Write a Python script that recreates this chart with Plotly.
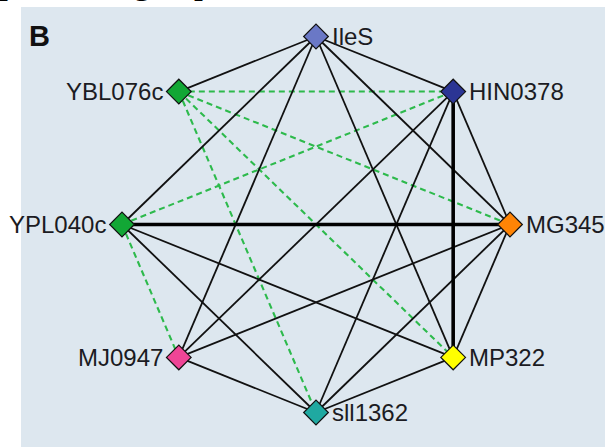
import math
import plotly.graph_objects as go

# ---- data ----
nodes = ["IleS", "HIN0378", "MG345", "MP322", "sll1362", "MJ0947", "YPL040c", "YBL076c"]
node_colors = ["#6a78c6", "#2b3594", "#ff8405", "#ffff00", "#1fa9a1", "#ef4596", "#12a735", "#12a735"]
label_side = ["right", "right", "right", "right", "right", "left", "left", "left"]

black_edges = [
    ("IleS", "YBL076c"), ("IleS", "YPL040c"), ("IleS", "MJ0947"), ("IleS", "MP322"),
    ("IleS", "MG345"), ("IleS", "HIN0378"),
    ("HIN0378", "MG345"), ("HIN0378", "sll1362"), ("HIN0378", "MJ0947"),
    ("MG345", "MP322"), ("MG345", "sll1362"), ("MG345", "MJ0947"),
    ("MP322", "sll1362"), ("MP322", "YPL040c"),
    ("sll1362", "MJ0947"), ("sll1362", "YPL040c"),
]
thick_edges = [("YPL040c", "MG345"), ("HIN0378", "MP322")]
dashed_edges = [
    ("YBL076c", "HIN0378"), ("YBL076c", "MG345"), ("YBL076c", "MP322"),
    ("YBL076c", "sll1362"), ("YPL040c", "HIN0378"), ("YPL040c", "MJ0947"),
]
caption_letters = ["p", "g", "p"]

W, H = 615, 447

# ---- circular layout (pixel-like coordinates) ----
CX, CY, RX, RY = 316, 224.5, 194, 188
pos = {}
for i, n in enumerate(nodes):
    a = math.radians(45 * i)
    pos[n] = (CX + RX * math.sin(a), CY - RY * math.cos(a))

fig = go.Figure()


def add_edges(edges, color, width, dash):
    xs, ys = [], []
    for a, b in edges:
        xs += [pos[a][0], pos[b][0], None]
        ys += [pos[a][1], pos[b][1], None]
    fig.add_trace(go.Scatter(x=xs, y=ys, mode="lines", hoverinfo="skip",
                             line=dict(color=color, width=width, dash=dash),
                             showlegend=False))


add_edges(dashed_edges, "#2dba4c", 2.1, "6px,4px")
add_edges(black_edges, "#111111", 1.8, "solid")
add_edges(thick_edges, "#000000", 3.6, "solid")

fig.add_trace(go.Scatter(
    x=[pos[n][0] for n in nodes], y=[pos[n][1] for n in nodes],
    mode="markers", hoverinfo="text", text=nodes, showlegend=False,
    marker=dict(symbol="diamond", size=19, color=node_colors,
                line=dict(color="#111111", width=1.2)),
))

annotations = []
for n, side in zip(nodes, label_side):
    x, y = pos[n]
    annotations.append(dict(
        x=x, y=y, xref="x", yref="y", text=n, showarrow=False,
        xanchor="left" if side == "right" else "right", yanchor="middle",
        xshift=14 if side == "right" else -14, yshift=0,
        font=dict(family="Liberation Sans, Arial", size=24, color="#1b1b22"),
    ))

annotations.append(dict(
    x=27, y=36, xref="x", yref="y", text="<b>B</b>", showarrow=False,
    xanchor="left", yanchor="middle",
    font=dict(family="Liberation Sans, Arial", size=29, color="#111111"),
))

# cropped caption letters peeking in at the very top of the image
for letter, lx in zip(caption_letters, [-3, 131, 192]):
    annotations.append(dict(
        x=lx / W, y=1 - 3 / H, xref="paper", yref="paper", text=letter, showarrow=False,
        xanchor="left", yanchor="bottom",
        font=dict(family="Liberation Serif, Times New Roman", size=36, color="#000000"),
    ))

fig.update_layout(
    width=W, height=H,
    margin=dict(l=0, r=0, t=0, b=0),
    paper_bgcolor="white", plot_bgcolor="white",
    xaxis=dict(range=[0, W], visible=False, fixedrange=True),
    yaxis=dict(range=[H, 0], visible=False, fixedrange=True),
    shapes=[dict(type="rect", xref="x", yref="y", x0=21, x1=605, y0=7, y1=H,
                 fillcolor="#dde7ef", line=dict(width=0), layer="below")],
    annotations=annotations,
)

fig.write_html("out.html", config={"displayModeBar": False},
               post_script="document.body.style.margin='0px';document.body.style.overflow='hidden';")
